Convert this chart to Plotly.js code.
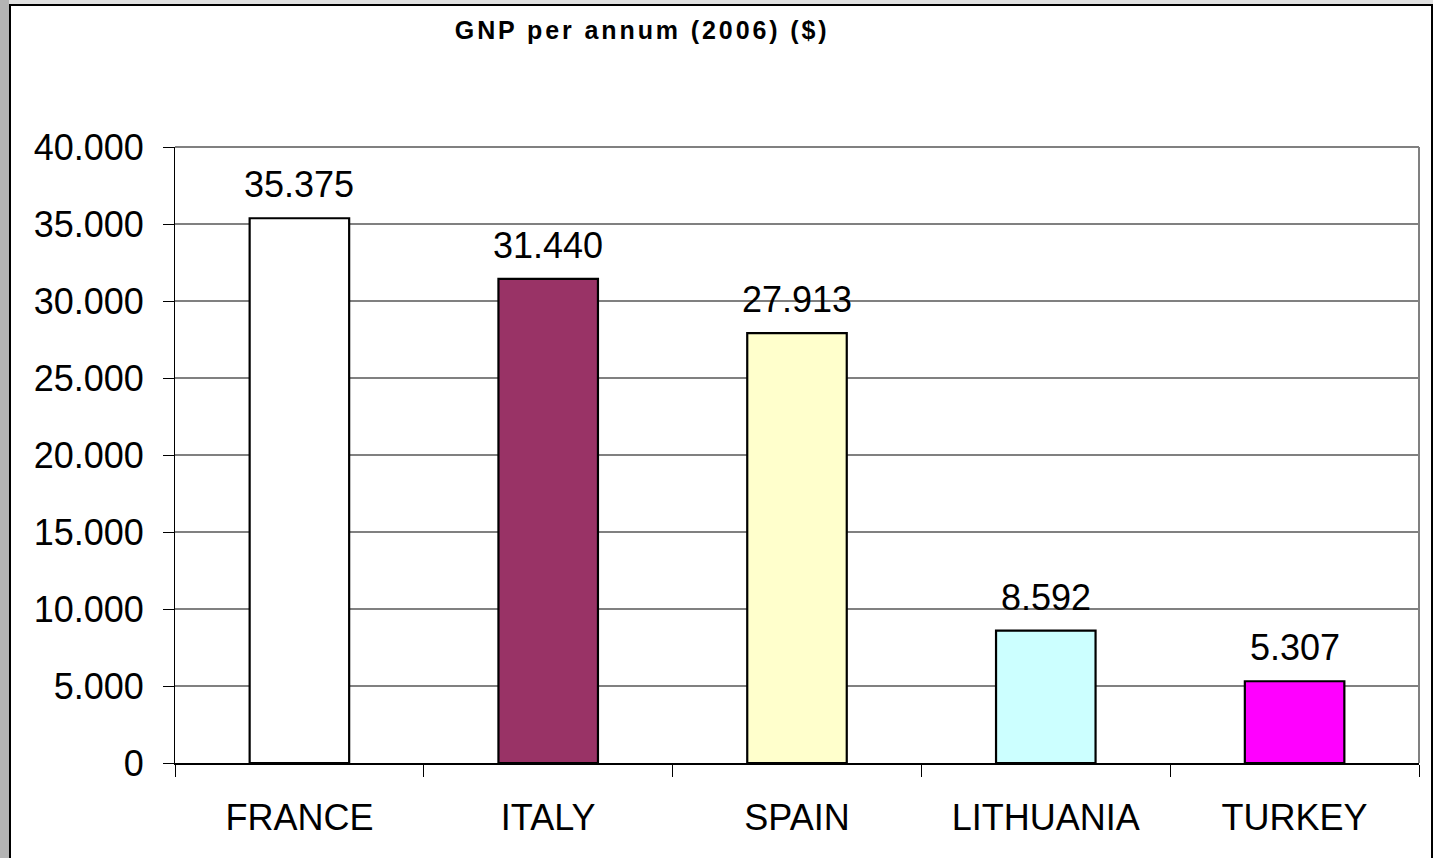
<!DOCTYPE html>
<html>
<head>
<meta charset="utf-8">
<script src="https://cdn.plot.ly/plotly-3.0.1.min.js"></script>
<style>
  html, body { margin: 0; padding: 0; overflow: hidden; width: 1433px; height: 858px; background: #e0e0e0; }
  #strip { position: absolute; left: 0; top: 0; width: 9px; height: 858px; background: #b4b4b4; }
  #frame { position: absolute; left: 9px; top: 4px; width: 1420px; height: 860px; border: 2px solid #000; background: #fff; }
  #chart { width: 1420px; height: 852px; }
  .gtitle { letter-spacing: 2.9px; }
</style>
</head>
<body>
<div id="strip"></div>
<div id="frame"><div id="chart"></div></div>
<script>
const countries = ["FRANCE", "ITALY", "SPAIN", "LITHUANIA", "TURKEY"];
const gnp2006 = [35375, 31440, 27913, 8592, 5307];
const barColors = ["#FFFFFF", "#993366", "#FFFFCC", "#CCFFFF", "#FF00FF"];
const yTicks = [0, 5000, 10000, 15000, 20000, 25000, 30000, 35000, 40000];

function fmt(v) {
  return String(v).replace(/\B(?=(\d{3})+(?!\d))/g, ".");
}

const trace = {
  type: "bar",
  x: countries,
  y: gnp2006,
  width: 0.4,
  marker: { color: barColors, line: { color: "#000000", width: 2.2 } },
  hoverinfo: "none"
};

const annotations = countries.map((c, i) => ({
  x: c, y: gnp2006[i], xref: "x", yref: "y",
  text: fmt(gnp2006[i]), showarrow: false,
  yanchor: "bottom", yshift: 11,
  font: { family: "Liberation Sans, Arial, sans-serif", size: 36, color: "#000" }
}));

const layout = {
  width: 1420, height: 852,
  margin: { l: 164, r: 12, t: 141, b: 95 },
  paper_bgcolor: "#ffffff",
  plot_bgcolor: "#ffffff",
  showlegend: false,
  separators: ",.",
  font: { family: "Liberation Sans, Arial, sans-serif", size: 36, color: "#000" },
  title: {
    text: "<b>GNP per annum (2006) ($)</b>",
    font: { family: "Liberation Sans, Arial, sans-serif", size: 25, color: "#000" },
    xref: "container", yref: "container",
    x: 0.4445, xanchor: "center",
    y: 0.9718, yanchor: "middle"
  },
  xaxis: {
    type: "category",
    showgrid: false,
    showline: true, linecolor: "#000", linewidth: 2,
    ticks: "outside", tickson: "boundaries", ticklen: 12, tickcolor: "#000", tickwidth: 1,
    ticklabelstandoff: 22,
    tickfont: { size: 36 },
    fixedrange: true
  },
  yaxis: {
    range: [0, 40000],
    tickvals: yTicks,
    ticktext: yTicks.map(fmt),
    showgrid: true, gridcolor: "#808080", gridwidth: 1.3,
    zeroline: false,
    showline: true, linecolor: "#000", linewidth: 1,
    ticks: "outside", ticklen: 11, tickcolor: "#000", tickwidth: 1,
    ticklabelstandoff: 12,
    tickfont: { size: 36 },
    fixedrange: true
  },
  shapes: [
    { type: "line", xref: "paper", yref: "paper", x0: 0, x1: 1, y0: 1, y1: 1, line: { color: "#808080", width: 2 } },
    { type: "line", xref: "paper", yref: "paper", x0: 1, x1: 1, y0: 0, y1: 1, line: { color: "#808080", width: 2 } }
  ],
  annotations: annotations
};

Plotly.newPlot("chart", [trace], layout, { displayModeBar: false, staticPlot: true });
</script>
</body>
</html>
